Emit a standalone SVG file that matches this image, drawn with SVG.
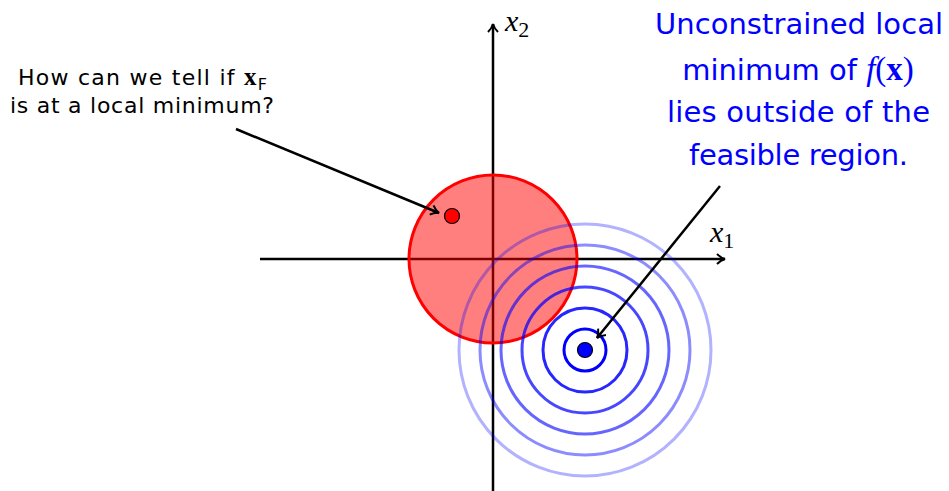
<svg xmlns="http://www.w3.org/2000/svg" width="949" height="491" viewBox="0 0 949 491">
<defs>
<marker id="ah" viewBox="0 0 12 12" refX="10" refY="6" markerWidth="12" markerHeight="12" markerUnits="userSpaceOnUse" orient="auto">
<path d="M2,1 Q6,5 10,6 Q6,7 2,11" fill="none" stroke="#000" stroke-width="2"/>
</marker>
</defs>
<style>
.axis{stroke:#000;stroke-width:2.5;fill:none}
.ring{fill:none;stroke:#0000FF;stroke-width:3}
.lbl{font-family:"DejaVu Sans","Liberation Sans",sans-serif;font-size:22px;fill:#000}
.blue{font-family:"DejaVu Sans","Liberation Sans",sans-serif;font-size:29px;fill:#0000FF}
.math{font-family:"Liberation Serif","DejaVu Serif",serif;font-style:italic}
.conn{stroke:#000;stroke-width:2.5;fill:none}
</style>
<rect width="949" height="491" fill="#fff"/>
<g id="axes">
<line class="axis" x1="260" y1="259" x2="725" y2="259" marker-end="url(#ah)"/>
<line class="axis" x1="493" y1="491" x2="493" y2="24" marker-end="url(#ah)"/>
<text class="math" x="505" y="31" font-size="30">x<tspan font-style="normal" font-size="22" dy="6">2</tspan></text>
<text class="math" x="710" y="242" font-size="30">x<tspan font-style="normal" font-size="22" dy="6">1</tspan></text>
</g>
<g id="feasible">
<circle cx="493" cy="259" r="84" fill="#FF0000" fill-opacity="0.5" stroke="#FF0000" stroke-width="3"/>
</g>
<g id="contours">
<circle class="ring" cx="585" cy="350" r="126" stroke-opacity="0.3"/>
<circle class="ring" cx="585" cy="350" r="105" stroke-opacity="0.45"/>
<circle class="ring" cx="585" cy="350" r="84" stroke-opacity="0.6"/>
<circle class="ring" cx="585" cy="350" r="63" stroke-opacity="0.72"/>
<circle class="ring" cx="585" cy="350" r="42" stroke-opacity="0.85"/>
<circle class="ring" cx="585" cy="350" r="21"/>
</g>
<g id="xF">
<circle cx="452" cy="216" r="7.5" fill="#FF0000" stroke="#000" stroke-width="1.2"/>
</g>
<g id="xmin">
<circle cx="585" cy="350" r="7.5" fill="#0000FF" stroke="#000" stroke-width="1.2"/>
</g>
<g id="question">
<text class="lbl" x="18" y="85" textLength="249" lengthAdjust="spacing">How can we tell if <tspan font-family="Liberation Serif,serif" font-weight="bold" font-size="25">x</tspan><tspan font-size="16" dy="5">F</tspan></text>
<text class="lbl" x="10" y="113" textLength="264" lengthAdjust="spacing">is at a local minimum?</text>
</g>
<g id="note">
<text class="blue" x="655" y="34" textLength="288" lengthAdjust="spacing">Unconstrained local</text>
<text class="blue" x="798" y="80" text-anchor="middle">minimum of <tspan class="math" font-size="33">f</tspan><tspan font-family="Liberation Serif,serif" font-size="33">(</tspan><tspan font-family="Liberation Serif,serif" font-weight="bold" font-size="33">x</tspan><tspan font-family="Liberation Serif,serif" font-size="33">)</tspan></text>
<text class="blue" x="667" y="122" textLength="263" lengthAdjust="spacing">lies outside of the</text>
<text class="blue" x="689" y="165" textLength="219" lengthAdjust="spacing">feasible region.</text>
</g>
<g id="connectors">
<line class="conn" x1="236" y1="129" x2="439" y2="213" marker-end="url(#ah)"/>
<line class="conn" x1="720" y1="186" x2="597" y2="338" marker-end="url(#ah)"/>
</g>
</svg>
